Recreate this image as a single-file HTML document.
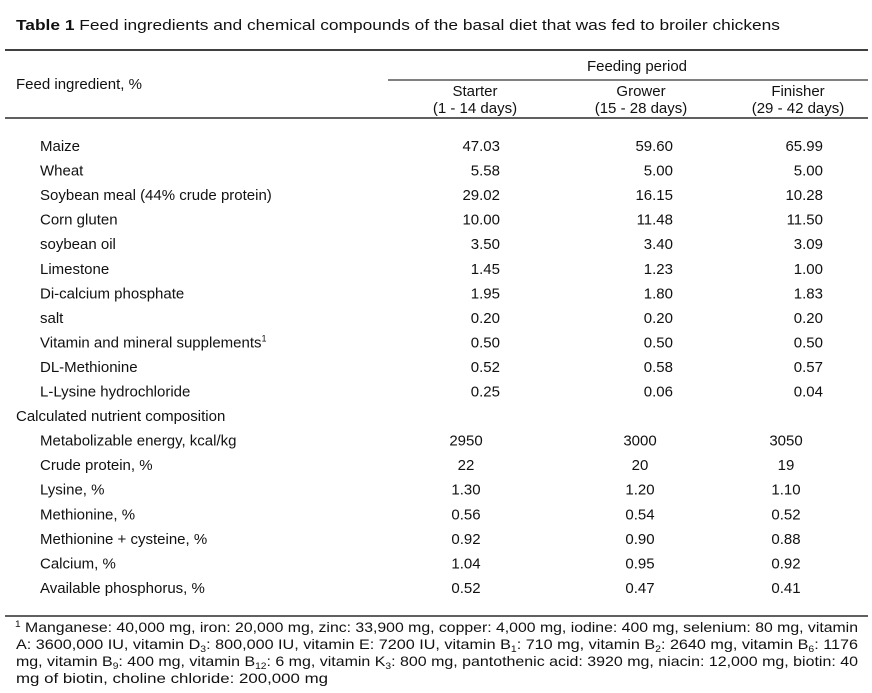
<!DOCTYPE html>
<html><head><meta charset="utf-8"><style>
html,body{margin:0;padding:0;background:#fff;}
svg{display:block;font-family:"Liberation Sans",Arial,sans-serif;}
text{fill:#111;font-size:15px;}
.fn{font-size:14px;}
</style></head><body>
<svg width="872" height="693" viewBox="0 0 872 693">
<text x="16" y="30" textLength="764" lengthAdjust="spacingAndGlyphs"><tspan font-weight="bold">Table 1</tspan> Feed ingredients and chemical compounds of the basal diet that was fed to broiler chickens</text>
<line x1="5" y1="50" x2="868" y2="50" stroke="#000" stroke-width="1.5"/>
<line x1="388" y1="80" x2="868" y2="80" stroke="#000" stroke-width="1"/>
<line x1="5" y1="118" x2="868" y2="118" stroke="#000" stroke-width="1.2"/>
<line x1="5" y1="616" x2="868" y2="616" stroke="#000" stroke-width="1.2"/>
<text x="16" y="89">Feed ingredient, %</text>
<text x="637" y="71" text-anchor="middle">Feeding period</text>
<text x="475" y="96" text-anchor="middle">Starter</text>
<text x="475" y="113" text-anchor="middle">(1 - 14 days)</text>
<text x="641" y="96" text-anchor="middle">Grower</text>
<text x="641" y="113" text-anchor="middle">(15 - 28 days)</text>
<text x="798" y="96" text-anchor="middle">Finisher</text>
<text x="798" y="113" text-anchor="middle">(29 - 42 days)</text>
<g id="rows"></g>
<g class="fn">
<text class="fn" x="15" y="632" textLength="843" lengthAdjust="spacingAndGlyphs"><tspan font-size="9" dy="-5">1</tspan><tspan dy="5"> Manganese: 40,000 mg, iron: 20,000 mg, zinc: 33,900 mg, copper: 4,000 mg, iodine: 400 mg, selenium: 80 mg, vitamin</tspan></text>
<text class="fn" x="16" y="649" textLength="842" lengthAdjust="spacingAndGlyphs">A: 3600,000 IU, vitamin D<tspan font-size="9" dy="3">3</tspan><tspan dy="-3">: 800,000 IU, vitamin E: 7200 IU, vitamin B</tspan><tspan font-size="9" dy="3">1</tspan><tspan dy="-3">: 710 mg, vitamin B</tspan><tspan font-size="9" dy="3">2</tspan><tspan dy="-3">: 2640 mg, vitamin B</tspan><tspan font-size="9" dy="3">6</tspan><tspan dy="-3">: 1176</tspan></text>
<text class="fn" x="16" y="666" textLength="842" lengthAdjust="spacingAndGlyphs">mg, vitamin B<tspan font-size="9" dy="3">9</tspan><tspan dy="-3">: 400 mg, vitamin B</tspan><tspan font-size="9" dy="3">12</tspan><tspan dy="-3">: 6 mg, vitamin K</tspan><tspan font-size="9" dy="3">3</tspan><tspan dy="-3">: 800 mg, pantothenic acid: 3920 mg, niacin: 12,000 mg, biotin: 40</tspan></text>
<text class="fn" x="16" y="683" textLength="312" lengthAdjust="spacingAndGlyphs">mg of biotin, choline chloride: 200,000 mg</text>
</g>
</svg>
<script>
const ingredients=["Maize","Wheat","Soybean meal (44% crude protein)","Corn gluten","soybean oil","Limestone","Di-calcium phosphate","salt","Vitamin and mineral supplements","DL-Methionine","L-Lysine hydrochloride"];
const starter=["47.03","5.58","29.02","10.00","3.50","1.45","1.95","0.20","0.50","0.52","0.25"];
const grower=["59.60","5.00","16.15","11.48","3.40","1.23","1.80","0.20","0.50","0.58","0.06"];
const finisher=["65.99","5.00","10.28","11.50","3.09","1.00","1.83","0.20","0.50","0.57","0.04"];
const nutrients=["Metabolizable energy, kcal/kg","Crude protein, %","Lysine, %","Methionine, %","Methionine + cysteine, %","Calcium, %","Available phosphorus, %"];
const nStarter=["2950","22","1.30","0.56","0.92","1.04","0.52"];
const nGrower=["3000","20","1.20","0.54","0.90","0.95","0.47"];
const nFinisher=["3050","19","1.10","0.52","0.88","0.92","0.41"];
const NS="http://www.w3.org/2000/svg";
const g=document.getElementById('rows');
const rowY=i=>151+i*24.55;
function t(x,y,s,anchor){const e=document.createElementNS(NS,'text');e.setAttribute('x',x);e.setAttribute('y',y);if(anchor)e.setAttribute('text-anchor',anchor);e.textContent=s;g.appendChild(e);return e;}
ingredients.forEach((name,i)=>{
 const y=rowY(i);
 const l=t(40,y,name);
 
 
 if(i===8){const s=document.createElementNS(NS,'tspan');s.setAttribute('font-size','9');s.setAttribute('dy','-6');s.textContent='1';l.appendChild(s);}
 [[500,starter],[673,grower],[823,finisher]].forEach(([x,arr])=>{
  const c=t(x,y,arr[i],'end');
  
  
 });
});
const h=t(16,rowY(11),"Calculated nutrient composition");


nutrients.forEach((name,i)=>{
 const y=rowY(12+i);
 const l=t(40,y,name);
 
 
 [[466,nStarter],[640,nGrower],[786,nFinisher]].forEach(([x,arr])=>{
  const c=t(x,y,arr[i],'middle');
  
  
 });
});
</script>
</body></html>
